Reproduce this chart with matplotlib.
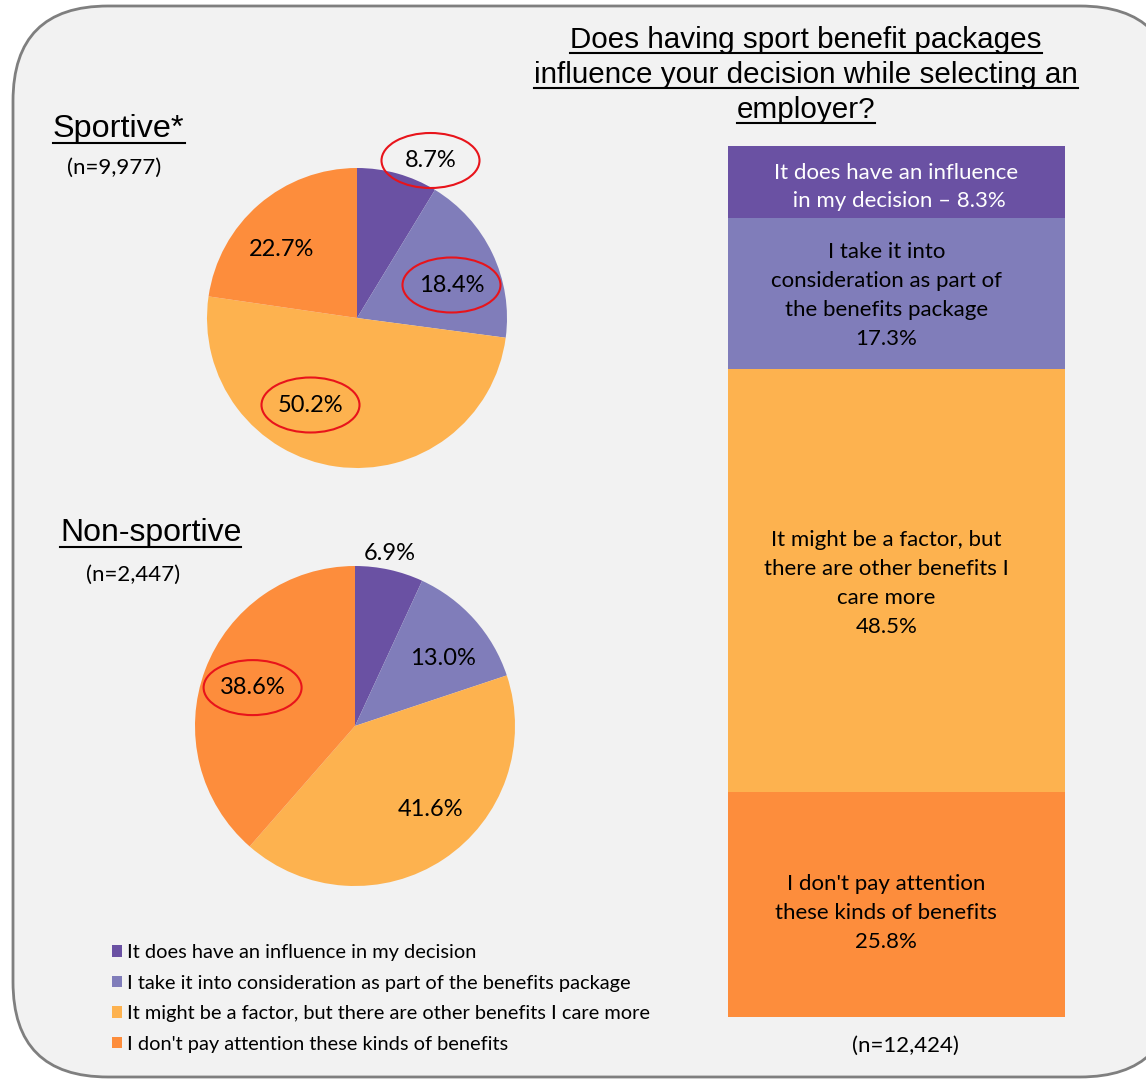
import matplotlib
matplotlib.use('Agg')
import matplotlib.pyplot as plt
from matplotlib.patches import FancyBboxPatch, Ellipse

# ---------------- data ----------------
categories = [
    "It does have an influence in my decision",
    "I take it into consideration as part of the benefits package",
    "It might be a factor, but there are other benefits I care more",
    "I don't pay attention these kinds of benefits",
]
sportive = [8.7, 18.4, 50.2, 22.7]
non_sportive = [6.9, 13.0, 41.6, 38.6]
overall = [8.3, 17.3, 48.5, 25.8]
bar_texts = [
    "It does have an influence\n in my decision",
    "I take it into\nconsideration as part of\nthe benefits package",
    "It might be a factor, but\nthere are other benefits I\ncare more",
    "I don't pay attention\nthese kinds of benefits",
]
sportive_n = "9,977"
non_sportive_n = "2,447"
overall_n = "12,424"
title_lines = ["Does having sport benefit packages",
               "influence your decision while selecting an",
               "employer?"]
highlight_sportive = [True, True, True, False]
highlight_non = [False, False, False, True]

# ---------------- style ----------------
colors = ['#6A51A3', '#807DBA', '#FDB24F', '#FD8D3C']
body_font = 'Lato'
head_font = 'Liberation Sans'
W, H = 1146, 1080

fig = plt.figure(figsize=(W / 100, H / 100), dpi=100)
fig.patch.set_facecolor('white')

bg = fig.add_axes([0, 0, 1, 1])
bg.set_xlim(0, W)
bg.set_ylim(H, 0)
bg.axis('off')
bg.add_patch(FancyBboxPatch((13, 6), 1175 - 13, 1077 - 6,
                            boxstyle="round,pad=0,rounding_size=95",
                            fc='#F2F2F2', ec='#7F7F7F', lw=2))


def px_axes(x0, y0, x1, y1):
    return fig.add_axes([x0 / W, 1 - y1 / H, (x1 - x0) / W, (y1 - y0) / H])


underlined = []


def heading(x, y, s, size, ha='center'):
    t = bg.text(x, y, s, fontsize=size, family=head_font, ha=ha, va='center',
                color='black')
    underlined.append(t)
    return t


for i, line in enumerate(title_lines):
    heading(806, 40 + 35 * i, line, 21.3)
heading(53, 129, "Sportive*", 23.3, ha='left')
heading(60, 533, "Non-sportive", 23, ha='left')

bg.text(114, 168, f"(n={sportive_n})", fontsize=16, family=body_font,
        ha='center', va='center')
bg.text(133, 575, f"(n={non_sportive_n})", fontsize=16, family=body_font,
        ha='center', va='center')
bg.text(905, 1046, f"(n={overall_n})", fontsize=16, family=body_font,
        ha='center', va='center')


def draw_pie(cx, cy, r, values, label_pos, highlight):
    ax = px_axes(cx - r, cy - r, cx + r, cy + r)
    wedges, _ = ax.pie(values, colors=colors, startangle=90, counterclock=False,
                       radius=1, wedgeprops=dict(linewidth=0))
    ax.set_xlim(-1, 1)
    ax.set_ylim(-1, 1)
    ax.axis('off')
    for v, (lx, ly), hl in zip(values, label_pos, highlight):
        ax.text(lx, ly, f"{v:.1f}%", fontsize=17, family=body_font,
                ha='center', va='center', color='black', clip_on=False)
        if hl:
            ax.add_patch(Ellipse((lx, ly), 98 / r, 55 / r, fill=False,
                                 ec='#E8141B', lw=1.5, clip_on=False))
    return wedges


wedges = draw_pie(357, 318, 150, sportive,
                  [(0.49, 1.05), (0.63, 0.22), (-0.31, -0.58), (-0.50, 0.46)],
                  highlight_sportive)
draw_pie(355, 726, 160, non_sportive,
         [(0.22, 1.08), (0.55, 0.42), (0.47, -0.52), (-0.64, 0.24)],
         highlight_non)

# stacked bar
bax = px_axes(728, 146, 1065, 1017)
total = sum(overall)
text_nudge = [(0.0, 0.55), (-0.03, 0.2), (-0.03, 0.35), (-0.03, 1.0)]
bottom = 0
for i, (v, txt) in enumerate(zip(overall, bar_texts)):
    bax.bar(0, v, bottom=bottom, width=1, color=colors[i], linewidth=0)
    label = f"{txt} – {v}%" if i == 0 else f"{txt}\n{v}%"
    dx, dy = text_nudge[i]
    bax.text(dx, bottom + v / 2 + dy, label, ha='center', va='center',
             fontsize=16, family=body_font, linespacing=1.55,
             color='white' if i == 0 else 'black')
    bottom += v
bax.set_xlim(-0.5, 0.5)
bax.set_ylim(total, 0)
bax.axis('off')

fig.legend(handles=wedges, labels=categories, loc='upper left',
           bbox_to_anchor=(112 / W, 1 - 944 / H), frameon=False,
           prop={'family': body_font, 'size': 14.4},
           handlelength=0.5, handleheight=0.5, handletextpad=0.25,
           labelspacing=0.68, borderaxespad=0, borderpad=0)

# underline headings
fig.canvas.draw()
renderer = fig.canvas.get_renderer()
inv = bg.transData.inverted()
for t in underlined:
    bb = t.get_window_extent(renderer)
    (x0, y0), (x1, y1) = inv.transform([(bb.x0, bb.y0), (bb.x1, bb.y1)])
    bg.plot([x0, x1], [y0 - 1, y0 - 1], color='black', lw=1.5)

fig.savefig('out.png', dpi=100, facecolor='white')
